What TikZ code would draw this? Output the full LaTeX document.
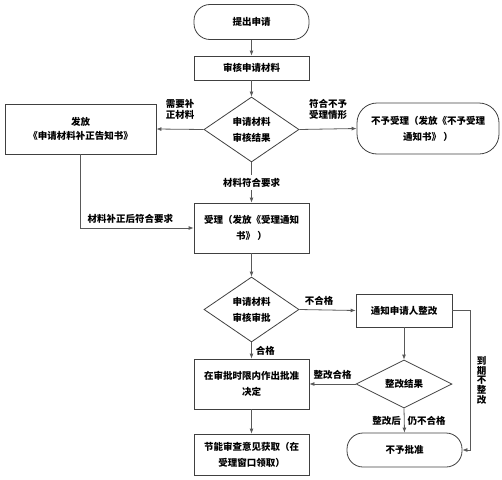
\documentclass[tikz,border=0pt]{standalone}
\usepackage{fontspec}
\setmainfont{Noto Sans CJK SC}
\usepackage{tikz}
\usetikzlibrary{shapes.geometric, arrows.meta, positioning}

\tikzset{
  base/.style={draw=black!75, line width=0.8pt, align=center, inner sep=1pt,
    font=\bfseries\fontsize{9.5}{16}\selectfont},
  box/.style={base, rectangle},
  decision/.style={base, diamond, aspect=1.4},
  startstop/.style={base, rectangle, rounded corners=16pt},
  line/.style={draw=black!65, line width=0.8pt, -{Latex[length=5pt,width=4pt]}},
  lbl/.style={font=\bfseries\fontsize{9.5}{11}\selectfont, inner sep=1pt, text=black}
}

\begin{document}
\begin{tikzpicture}[x=1pt, y=-1pt]
\useasboundingbox (0,0) rectangle (502,479);

% Nodos principales
\node[startstop, minimum width=115pt, minimum height=35pt] (apply) at (251.5,22) {提出申请};
\node[box, minimum width=115pt, minimum height=24pt] (check) at (251.5,68) {审核申请材料};
\node[decision, minimum width=95pt, minimum height=65pt, inner sep=0pt] (result1) at (251.5,129.5) {申请材料\\审核结果};
\node[box, minimum width=151pt, minimum height=50pt, font=\bfseries\fontsize{9.5}{14}\selectfont] (supply) at (80.5,129) {发放\\《申请材料补正告知书》};
\node[startstop, minimum width=142pt, minimum height=51pt, rounded corners=20pt] (refuse) at (428,128.5) {不予受理（发放《不予受理\\通知书》 ）};
\node[box, minimum width=115pt, minimum height=50pt] (accept) at (251.5,228) {受理（发放《受理通知\\书》 ）};
\node[decision, minimum width=95pt, minimum height=65pt, inner sep=0pt] (result2) at (251.5,309.5) {申请材料\\审核审批};
\node[box, minimum width=96pt, minimum height=33pt] (notify) at (404,310.5) {通知申请人整改};
\node[decision, minimum width=96pt, minimum height=48pt, inner sep=0pt] (result3) at (404,384) {整改结果};
\node[startstop, minimum width=115pt, minimum height=34pt] (deny) at (404.5,450) {不予批准};
\node[box, minimum width=115pt, minimum height=50pt] (approve) at (251.5,384) {在审批时限内作出批准\\决定};
\node[box, minimum width=115pt, minimum height=41pt] (obtain) at (251.5,454.5) {节能审查意见获取（在\\受理窗口领取）};

% Conectores
\draw[line] (apply) -- (check);
\draw[line] (check) -- (result1);
\draw[line] (result1.west) -- node[lbl, above=8pt, align=left] {需要补\\正材料} (supply.east);
\draw[line] (result1.east) -- node[lbl, above=8pt, align=left] {符合不予\\受理情形} (refuse.west);
\draw[line] (result1.south) -- node[lbl, fill=white, inner sep=3pt] {材料符合要求} (accept.north);
\draw[line] (supply.south) |- node[lbl, pos=0.72, above=3pt] {材料补正后符合要求} (accept.west);
\draw[line] (accept) -- (result2);
\draw[line] (result2.east) -- node[lbl, pos=0.35, above=3pt] {不合格} (notify.west);
\draw[line] (result2.south) -- node[lbl, right=3pt] {合格} (approve.north);
\draw[line] (notify) -- (result3);
\draw[line] (result3.west) -- node[lbl, above=3pt] {整改合格} (approve.east);
\draw[line] (result3.south) -- node[lbl, left=2pt] {整改后} node[lbl, right=2pt] {仍不合格} (deny.north);
\draw[line] (notify.east) -- ++(18,0) |- node[lbl, pos=0.25, right=5pt, align=center, font=\bfseries\fontsize{9.5}{9.6}\selectfont] {到\\期\\不\\整\\改} (deny.east);
\draw[line] (approve) -- (obtain);

\end{tikzpicture}
\end{document}
